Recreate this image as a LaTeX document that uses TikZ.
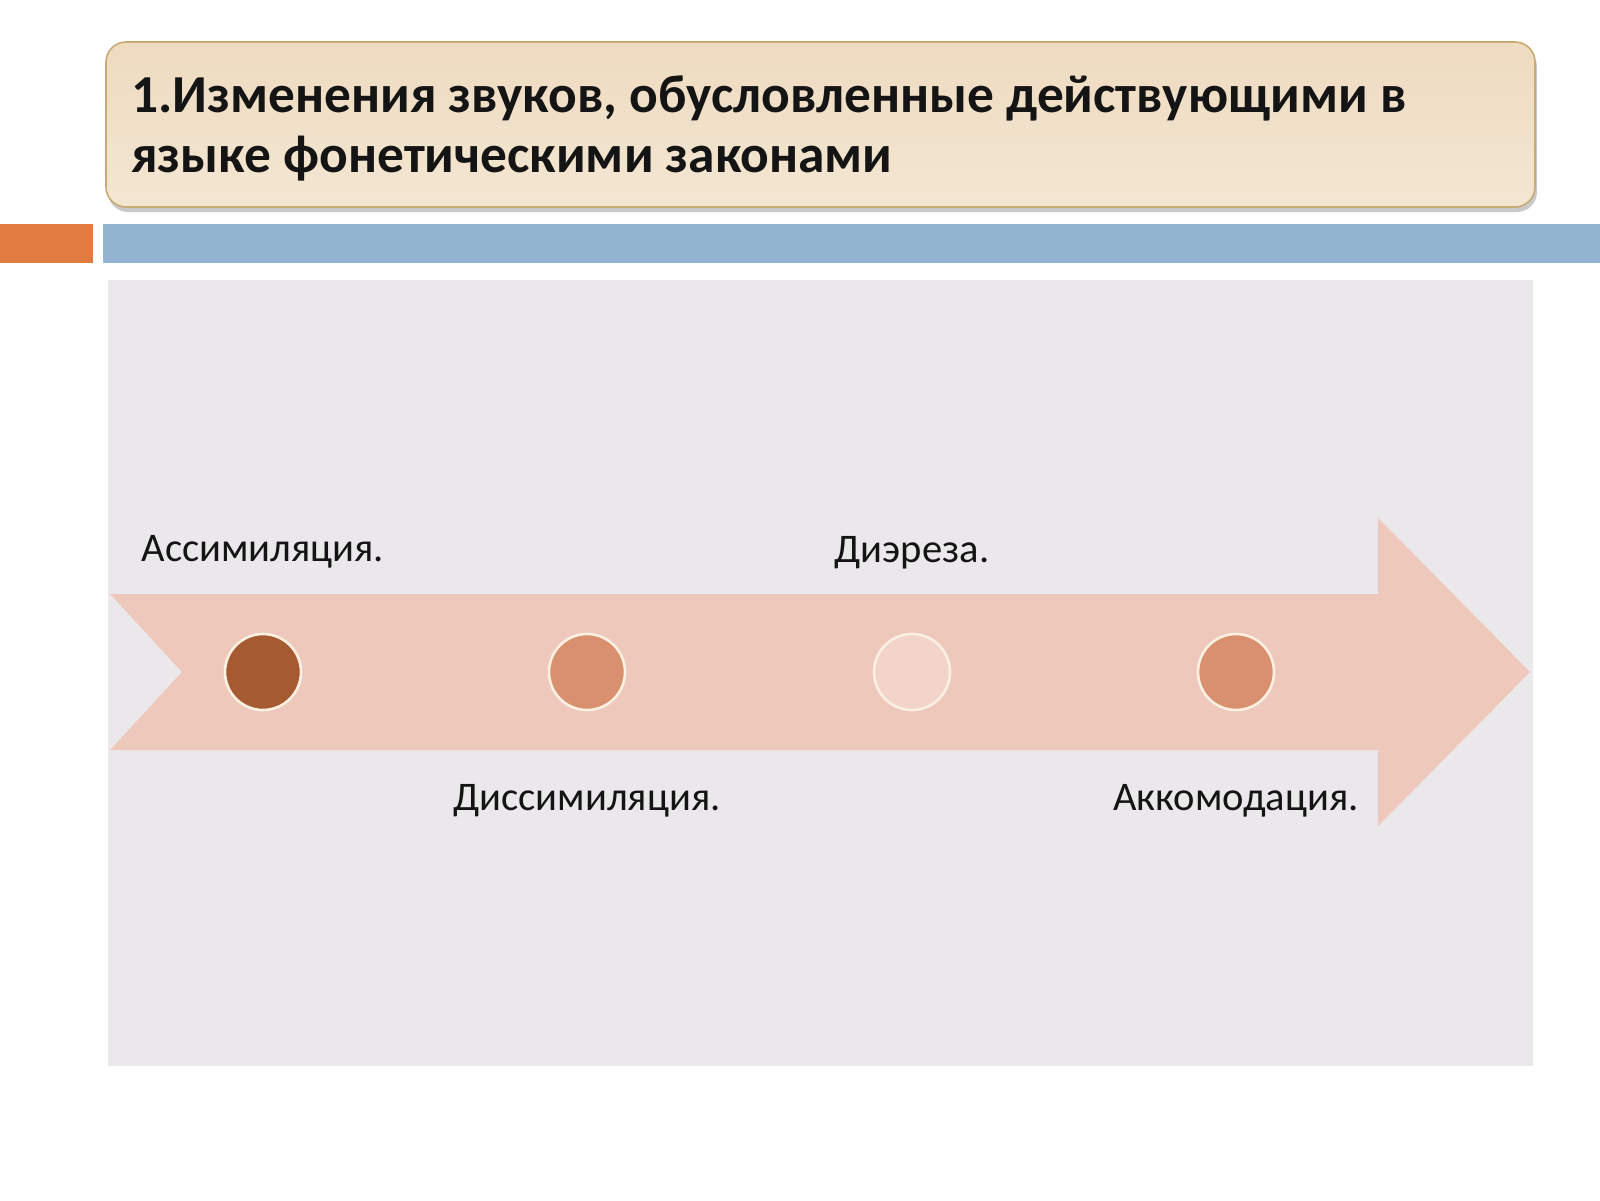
\documentclass[tikz,border=0pt]{standalone}
\usepackage{fontspec}
\setmainfont{Carlito}
\usetikzlibrary{shadows}
\definecolor{titletop}{HTML}{EEDBC0}
\definecolor{titlebot}{HTML}{F3E6D2}
\definecolor{titleedge}{HTML}{C8AA74}
\definecolor{orangebar}{HTML}{E07C40}
\definecolor{bluebar}{HTML}{93B4D1}
\definecolor{panelc}{HTML}{EBE8EB}
\definecolor{arrowc}{HTML}{EEC8BA}
\definecolor{dotdark}{HTML}{A65A32}
\definecolor{dotmid}{HTML}{D8906E}
\definecolor{dotlight}{HTML}{F2D4C8}
\definecolor{dotedge}{HTML}{FBF0E2}
\definecolor{textc}{HTML}{141414}
\tikzset{
  titlebox/.style={rectangle, rounded corners=10pt, draw=titleedge, line width=0.8pt,
    top color=titletop, bottom color=titlebot, minimum width=714.5pt, minimum height=82.5pt,
    inner sep=0pt, drop shadow={shadow xshift=1pt, shadow yshift=-2.5pt, opacity=0.35, fill=black!60}},
  titletext/.style={anchor=base west, inner sep=0pt, text=textc,
    font=\fontsize{26.7}{30}\selectfont\bfseries},
  dot/.style={circle, minimum size=38pt, inner sep=0pt, draw=dotedge, line width=1.3pt},
  lbl/.style={anchor=base, inner sep=0pt, text=textc, font=\fontsize{20.3}{24}\selectfont}
}
\begin{document}
\begin{tikzpicture}[x=0.5pt,y=-0.5pt]
\useasboundingbox (0,0) rectangle (1600,1200);
\fill[white] (0,0) rectangle (1600,1200);
% title
\node[titlebox] (titlebox) at (820.5,124.5) {};
\node[titletext] (title1) at (131,112) {1.Изменения звуков, обусловленные действующими в};
\node[titletext] (title2) at (131,172) {языке фонетическими законами};
% bars
\fill[orangebar] (0,224) rectangle (93,263);
\fill[bluebar] (103,224) rectangle (1600,263);
% panel
\fill[panelc] (108,280) rectangle (1533,1066);
% arrow
\fill[arrowc] (110,594) -- (1378,594) -- (1378,518) -- (1530,672) -- (1378,826)
  -- (1378,750) -- (110,750) -- (182,672) -- cycle;
% dots
\node[dot, fill=dotdark] (c1) at (263,672) {};
\node[dot, fill=dotmid] (c2) at (587,672) {};
\node[dot, fill=dotlight] (c3) at (912,672) {};
\node[dot, fill=dotmid] (c4) at (1236,672) {};
% labels
\node[lbl] (l1) at (263,561) {Ассимиляция.};
\node[lbl] (l2) at (587,810) {Диссимиляция.};
\node[lbl] (l3) at (912,562) {Диэреза.};
\node[lbl] (l4) at (1236,810) {Аккомодация.};
\end{tikzpicture}
\end{document}
